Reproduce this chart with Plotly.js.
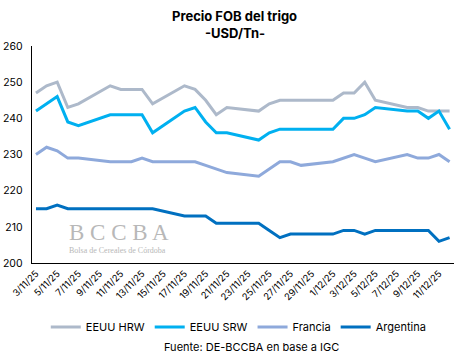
<!DOCTYPE html>
<html>
<head>
<meta charset="utf-8">
<script src="https://cdn.plot.ly/plotly-3.0.1.min.js"></script>
<style>html,body{margin:0;padding:0;background:#fff;}#chart{width:466px;height:361px;}</style>
</head>
<body>
<div id="chart"></div>
<script>
const dates = ["2025-11-03","2025-11-04","2025-11-05","2025-11-06","2025-11-07",
  "2025-11-10","2025-11-11","2025-11-12","2025-11-13","2025-11-14",
  "2025-11-17","2025-11-18","2025-11-19","2025-11-20","2025-11-21",
  "2025-11-24","2025-11-25","2025-11-26","2025-11-27","2025-11-28",
  "2025-12-01","2025-12-02","2025-12-03","2025-12-04","2025-12-05",
  "2025-12-08","2025-12-09","2025-12-10","2025-12-11","2025-12-12"];
const hrw = [247,249,250,243,244, 249,248,248,248,244, 249,248,245,241,243, 242,244,245,245,245, 245,247,247,250,245, 243,243,242,242,242];
const srw = [242,244,246,239,238, 241,241,241,241,236, 242,243,239,236,236, 234,236,237,237,237, 237,240,240,241,243, 242,242,240,242,237];
const francia = [230,232,231,229,229, 228,228,228,229,228, 228,228,227,226,225, 224,226,228,228,227, 228,229,230,229,228, 230,229,229,230,228];
const argentina = [215,215,216,215,215, 215,215,215,215,215, 213,213,213,211,211, 211,209,207,208,208, 208,209,209,208,209, 209,209,209,206,207];
const seriesNames = ["EEUU HRW","EEUU SRW","Francia","Argentina"];
const seriesColors = ["#ADB9CA","#00B0F0","#8EA9DB","#0070C0"];
const seriesData = [hrw, srw, francia, argentina];

const traces = seriesData.map((vals, i) => ({
  x: dates, y: vals, type: "scatter", mode: "lines", name: seriesNames[i],
  line: {color: seriesColors[i], width: 3}
}));

const font = "Inter, 'Liberation Sans', Arial, sans-serif";
const serif = "'Liberation Serif', 'DejaVu Serif', serif";
const layout = {
  width: 466, height: 361,
  margin: {l: 32, r: 12, t: 46, b: 98},
  paper_bgcolor: "#ffffff", plot_bgcolor: "#ffffff",
  font: {family: font, color: "#404040", size: 10},
  showlegend: true,
  legend: {orientation: "h", x: 0.49, xanchor: "center", y: -0.295, yanchor: "middle",
           font: {family: font, size: 11, color: "#000000"}, itemwidth: 30, tracegroupgap: 0},
  xaxis: {type: "date", range: ["2025-11-02 15:00", "2025-12-12 10:00"],
          tick0: "2025-11-03", dtick: 2*86400000, tickformat: "%-d/%-m/%y",
          tickangle: -45, showgrid: false, zeroline: false,
          showline: true, linecolor: "#000000", linewidth: 1.3, ticks: "",
          tickfont: {family: font, size: 9.5, color: "#000000"}, fixedrange: true},
  yaxis: {range: [200, 260], dtick: 10, showgrid: false, zeroline: false,
          showline: true, linecolor: "#000000", linewidth: 1.3, ticks: "",
          ticklabelstandoff: 6,
          tickfont: {family: font, size: 10.5, color: "#000000"}, fixedrange: true},
  annotations: [
    {text: "<b>Precio FOB del trigo</b>", xref: "paper", yref: "paper", x: 0.48, y: 1.138,
     xanchor: "center", yanchor: "middle", showarrow: false, font: {family: font, size: 13, color: "#000000"}},
    {text: "<b>-USD/Tn-</b>", xref: "paper", yref: "paper", x: 0.48, y: 1.06,
     xanchor: "center", yanchor: "middle", showarrow: false, font: {family: font, size: 13, color: "#000000"}},
    {text: "Fuente: DE-BCCBA en base a IGC", xref: "paper", yref: "paper", x: 0.52, y: -0.387,
     xanchor: "center", yanchor: "middle", showarrow: false, font: {family: font, size: 11, color: "#000000"}},
    {text: "B C C B A", xref: "paper", yref: "paper", x: 0.082, y: 0.14, xanchor: "left", yanchor: "middle",
     showarrow: false, font: {family: serif, size: 23, color: "#b8b8b8"}},
    {text: "Bolsa de Cereales de Córdoba", xref: "paper", yref: "paper", x: 0.082, y: 0.056, xanchor: "left", yanchor: "middle",
     showarrow: false, font: {family: serif, size: 8, color: "#b8b8b8"}}
  ]
};
Plotly.newPlot("chart", traces, layout, {displayModeBar: false, staticPlot: true});
</script>
</body>
</html>
